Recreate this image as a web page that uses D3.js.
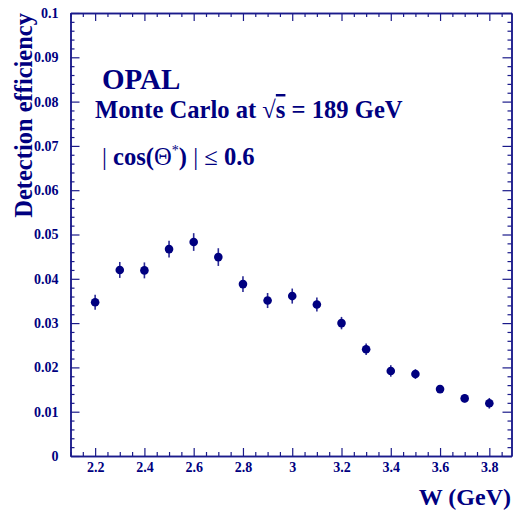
<!DOCTYPE html>
<html>
<head>
<meta charset="utf-8">
<script src="https://cdn.jsdelivr.net/npm/d3@7"></script>
<style>
  html, body { margin: 0; padding: 0; background: #fff; }
  svg text { font-family: "Liberation Serif", "Times New Roman", serif; font-weight: bold; fill: #000080; }
  .axis path, .axis line { stroke: #1a1a8a; }
</style>
</head>
<body>
<div id="chart"></div>
<script>
// W bins (GeV) and detection efficiency
const wValues = [2.2, 2.3, 2.4, 2.5, 2.6, 2.7, 2.8, 2.9, 3.0, 3.1, 3.2, 3.3, 3.4, 3.5, 3.6, 3.7, 3.8];
const efficiency = [0.0347, 0.0420, 0.0419, 0.0467, 0.0483, 0.0449, 0.0388, 0.0351, 0.0361, 0.0342, 0.0300, 0.0241, 0.0192, 0.0185, 0.0151, 0.0130, 0.0119];
const effError = [0.0017, 0.0018, 0.0018, 0.0019, 0.0020, 0.0020, 0.0018, 0.0017, 0.0017, 0.0016, 0.0014, 0.0013, 0.0013, 0.0011, 0.0009, 0.0009, 0.0012];

const xTicks = [2.2, 2.4, 2.6, 2.8, 3.0, 3.2, 3.4, 3.6, 3.8];
const yTicks = [0, 0.01, 0.02, 0.03, 0.04, 0.05, 0.06, 0.07, 0.08, 0.09, 0.1];

const W = 514, H = 512;
const margin = { top: 13, right: 2.5, bottom: 56, left: 70.5 };

const svg = d3.select('#chart').append('svg')
  .attr('width', W)
  .attr('height', H);

const x = d3.scaleLinear().domain([2.1, 3.89]).range([margin.left, W - margin.right]);
const y = d3.scaleLinear().domain([0, 0.1]).range([H - margin.bottom, margin.top]);

// minor ticks
const xMinor = d3.range(2.1, 3.891, 0.05).map(v => +v.toFixed(2)).filter(v => !xTicks.some(t => Math.abs(t - v) < 1e-6));
const yMinor = d3.range(0, 0.1001, 0.002).map(v => +v.toFixed(3)).filter(v => !yTicks.some(t => Math.abs(t - v) < 1e-6));

const fmtY = d => d === 0 ? '0' : d3.format('.2~f')(d);
const fmtX = d => d3.format('~g')(d);

function addAxis(gen, transform, cls) {
  const g = svg.append('g').attr('class', 'axis ' + cls).attr('transform', transform).call(gen);
  g.select('.domain').attr('stroke-width', 1.5);
  g.selectAll('.tick line').attr('stroke-width', 1.2);
  return g;
}

const yb = y(0), xr = x.range()[1], xl = x.range()[0], yt = y(0.1);

// bottom
addAxis(d3.axisBottom(x).tickValues(xTicks).tickSize(-8).tickSizeOuter(0).tickPadding(6.5).tickFormat(fmtX), `translate(0,${yb})`, 'xb')
  .selectAll('text').style('font-size', '14px').attr('fill', '#000080');
addAxis(d3.axisBottom(x).tickValues(xMinor).tickSize(-4).tickSizeOuter(0).tickFormat(''), `translate(0,${yb})`, 'xbm');
// top
addAxis(d3.axisTop(x).tickValues(xTicks).tickSize(-8).tickSizeOuter(0).tickFormat(''), `translate(0,${yt})`, 'xt');
addAxis(d3.axisTop(x).tickValues(xMinor).tickSize(-4).tickSizeOuter(0).tickFormat(''), `translate(0,${yt})`, 'xtm');
// left
addAxis(d3.axisLeft(y).tickValues(yTicks).tickSize(-9).tickSizeOuter(0).tickPadding(12).tickFormat(fmtY), `translate(${xl},0)`, 'yl')
  .selectAll('text').style('font-size', '14px').attr('fill', '#000080');
addAxis(d3.axisLeft(y).tickValues(yMinor).tickSize(-4).tickSizeOuter(0).tickFormat(''), `translate(${xl},0)`, 'ylm');
// right
addAxis(d3.axisRight(y).tickValues(yTicks).tickSize(-9).tickSizeOuter(0).tickFormat(''), `translate(${xr},0)`, 'yr');
addAxis(d3.axisRight(y).tickValues(yMinor).tickSize(-4).tickSizeOuter(0).tickFormat(''), `translate(${xr},0)`, 'yrm');

// axis titles
svg.append('text')
  .attr('x', W - 3).attr('y', 505)
  .attr('text-anchor', 'end')
  .style('font-size', '24px')
  .text('W (GeV)');

svg.append('text')
  .attr('transform', `translate(32,${margin.top}) rotate(-90)`)
  .attr('text-anchor', 'end')
  .style('font-size', '24.5px')
  .text('Detection efficiency');

// annotations
svg.append('text').attr('x', 102).attr('y', 89).style('font-size', '29px').text('OPAL');

const mc = svg.append('text').attr('x', 95).attr('y', 118).style('font-size', '24.6px');
mc.append('tspan').text('Monte Carlo at ');
mc.append('tspan').style('font-weight', 'normal').text('\u221A');
mc.append('tspan').style('text-decoration', 'overline').text('s');
mc.append('tspan').text(' = 189 GeV');

const ct = svg.append('text').attr('x', 102).attr('y', 165).style('font-size', '24.6px');
ct.append('tspan').style('font-weight', 'normal').text('| ');
ct.append('tspan').text('cos(');
ct.append('tspan').style('font-weight', 'normal').text('\u0398');
ct.append('tspan').attr('dy', -10).style('font-size', '14px').style('font-weight', 'normal').text('*');
ct.append('tspan').attr('dy', 10).text(')');
ct.append('tspan').style('font-weight', 'normal').text(' | ');
ct.append('tspan').style('font-weight', 'normal').text('\u2264');
ct.append('tspan').text(' 0.6');

// data points with error bars
const pts = wValues.map((w, i) => ({ w, e: efficiency[i], err: effError[i] }));

svg.append('g').selectAll('line')
  .data(pts).enter().append('line')
  .attr('x1', d => x(d.w)).attr('x2', d => x(d.w))
  .attr('y1', d => y(d.e - d.err)).attr('y2', d => y(d.e + d.err))
  .attr('stroke', '#2b2b95').attr('stroke-width', 1.6);

svg.append('g').selectAll('circle')
  .data(pts).enter().append('circle')
  .attr('cx', d => x(d.w)).attr('cy', d => y(d.e))
  .attr('r', 4.3)
  .attr('fill', '#000080');
</script>
</body>
</html>
